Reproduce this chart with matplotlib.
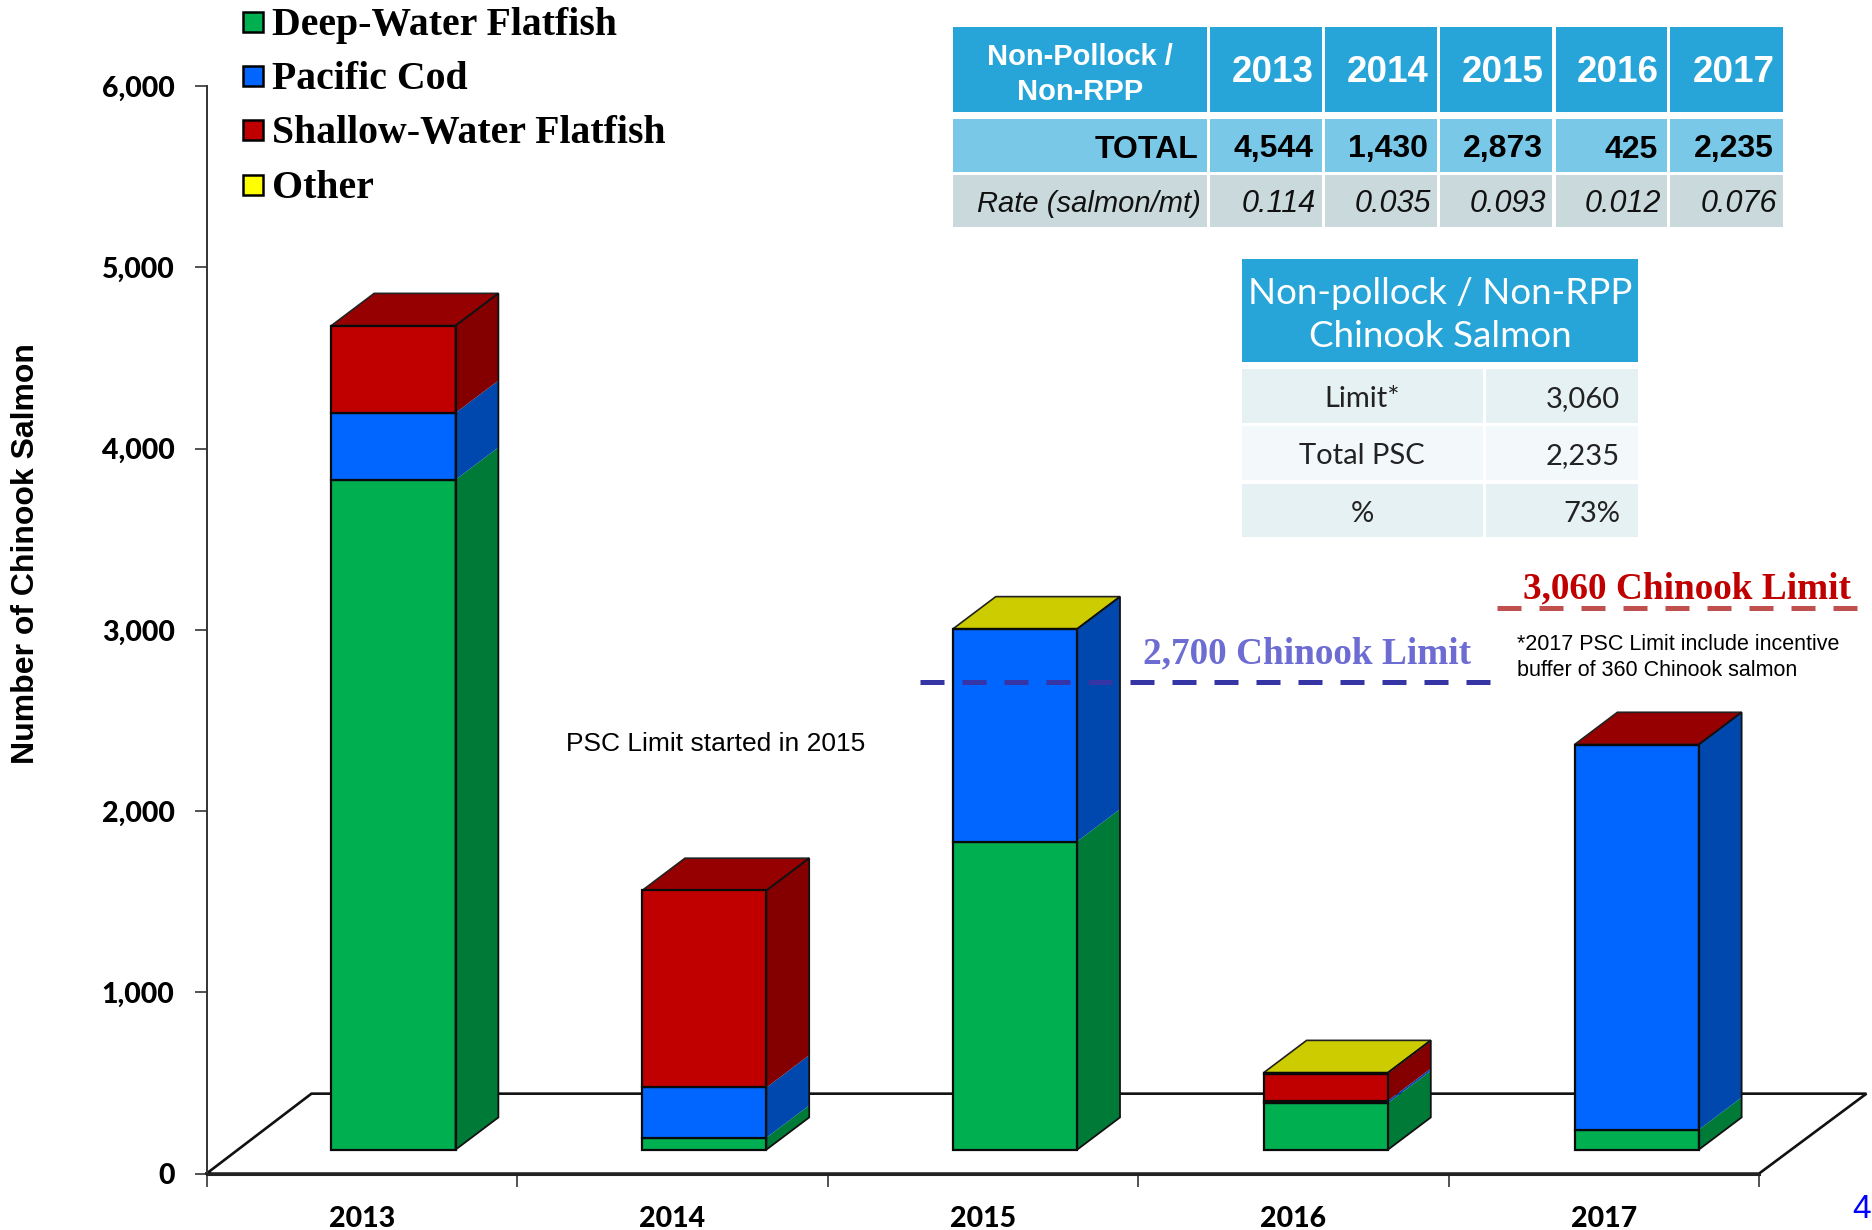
import matplotlib
matplotlib.use("Agg")
import matplotlib.pyplot as plt
from matplotlib.patches import Polygon, Rectangle
import numpy as np

# ---- data ----
years = ["2013", "2014", "2015", "2016", "2017"]
deep_water = [3696, 66, 1700, 257, 110]
pacific_cod = [369, 277, 1172, 13, 2124]
shallow_water = [481, 1087, 0, 150, 1]
other = [0, 0, 1, 5, 0]
series_names = ["Deep-Water Flatfish", "Pacific Cod", "Shallow-Water Flatfish", "Other"]
y_ticks = [0, 1000, 2000, 3000, 4000, 5000, 6000]
limit_2015 = 2713
limit_2017 = 3122

t1_head = ["Non-Pollock /\nNon-RPP", "2013", "2014", "2015", "2016", "2017"]
t1_total = ["TOTAL", "4,544", "1,430", "2,873", "425", "2,235"]
t1_rate = ["Rate (salmon/mt)", "0.114", "0.035", "0.093", "0.012", "0.076"]
t2_title = "Non-pollock / Non-RPP\nChinook Salmon"
t2_labels = ["Limit*", "Total PSC", "%"]
t2_values = ["3,060", "2,235", "73%"]

# ---- styles ----
FRONT = ["#00B050", "#0066FF", "#C00000", "#FFFF00"]
SIDE = ["#007A37", "#0047AE", "#840000", "#9C9C00"]
TOP = ["#00803A", "#004FC0", "#960000", "#CCCC00"]
W, H = 1872, 1230
SERIF = "Liberation Serif"
ARIAL = "Liberation Sans"
NARROW = "Lato"
CAL = "Lato"

fig = plt.figure(figsize=(W / 100, H / 100), dpi=100, facecolor="white")
L, R, T, B = 206.5, 1759.0, 86.0, 1173.6
ax = fig.add_axes([L / W, 1 - B / H, (R - L) / W, (B - T) / H])
ax.set_xlim(0, 5)
ax.set_ylim(0, 6000)
ax.patch.set_alpha(0)
for s in ["top", "right"]:
    ax.spines[s].set_visible(False)
ax.spines["left"].set_color("#333333")
ax.spines["left"].set_linewidth(1.4)
ax.spines["bottom"].set_linewidth(2.2)
ax.spines["bottom"].set_color("#222222")
ax.set_yticks(y_ticks)
ax.set_yticklabels([f"{v:,}" for v in y_ticks], fontfamily=CAL, fontweight=900, fontsize=20.5)
ax.set_xticks(np.arange(6))
ax.set_xticklabels([])
ax.set_xticks(np.arange(5) + 0.5, minor=True)
ax.set_xticklabels(years, minor=True, fontfamily=CAL, fontweight=900, fontsize=20.5)
ax.tick_params(axis="y", length=9, width=1.2, pad=14, color="#333333")
ax.tick_params(axis="x", which="major", length=9, width=1.2, color="#333333")
ax.tick_params(axis="x", which="minor", length=0, pad=23)
ax.set_ylabel("Number of Chinook Salmon", fontfamily=ARIAL, fontweight="bold", fontsize=23, va="center")
ax.yaxis.set_label_coords((26 - L) / (R - L), (B - 554) / (B - T))

# floor
fx = 0.338
fy = 441
ax.plot([0, fx, 5 + fx + 0.008, 5, 0], [0, fy, fy, 0, 0], color="#111111", lw=1.9, clip_on=False, zorder=1,
        solid_joinstyle="miter")

# 3D stacked bars
base = 132
bx = 0.4
bw = 0.4
dx = 0.138
dy = 178
stack = [deep_water, pacific_cod, shallow_water, other]
for i in range(len(years)):
    x0 = i * 1.001 + bx + 0.002
    x1 = x0 + bw
    cum = base
    last = 0
    for k, vals in enumerate(stack):
        v = vals[i]
        if v <= 0:
            continue
        ax.add_patch(Polygon([(x1, cum), (x1 + dx, cum + dy), (x1 + dx, cum + v + dy), (x1, cum + v)],
                             closed=True, fc=SIDE[k], ec="none", zorder=3, clip_on=False))
        ax.add_patch(Rectangle((x0, cum), bw, v, fc=FRONT[k], ec="#0a0a0a", lw=1.6, zorder=4, clip_on=False))
        cum += v
        last = k
    ax.add_patch(Polygon([(x0, cum), (x0 + dx, cum + dy), (x1 + dx, cum + dy), (x1, cum)],
                         closed=True, fc=TOP[last], ec="#222222", lw=1.2, zorder=3, clip_on=False))
    ax.add_patch(Polygon([(x1, base), (x1 + dx, base + dy), (x1 + dx, cum + dy), (x1, cum)],
                         closed=True, fc="none", ec="#111111", lw=1.3, zorder=5, clip_on=False))

# limit lines
ax.plot([2.298, 4.139], [limit_2015] * 2, color="#3535A5", lw=3.6, dashes=(4.8, 3.6), dash_capstyle="butt",
        zorder=6, clip_on=False)
ax.plot([4.155, 5.315], [limit_2017] * 2, color="#C0504D", lw=3.6, dashes=(4.8, 3.6), dash_capstyle="butt",
        zorder=6, clip_on=False)

# overlay in pixel coordinates for legend, tables and notes
ov = fig.add_axes([0, 0, 1, 1])
ov.set_xlim(0, W)
ov.set_ylim(H, 0)
ov.axis("off")
ov.patch.set_alpha(0)

for name, col, yc in zip(series_names, FRONT, [21.5, 76, 130, 185]):
    ov.add_patch(Rectangle((243, yc - 10), 20, 20, fc=col, ec="black", lw=1.8))
    ov.text(272, yc + 3.5, name, fontfamily=SERIF, fontweight="bold", fontsize=28.6, va="center", ha="left")

ov.text(566, 744, "PSC Limit started in 2015", fontfamily=ARIAL, fontsize=19, va="center", ha="left")
ov.text(1143, 654, "2,700 Chinook Limit", fontfamily=SERIF, fontweight="bold", fontsize=26.8, color="#6C6CD2",
        va="center", ha="left")
ov.text(1523, 589, "3,060 Chinook Limit", fontfamily=SERIF, fontweight="bold", fontsize=26.8, color="#C00000",
        va="center", ha="left")
ov.text(1517, 644, "*2017 PSC Limit include incentive", fontfamily=ARIAL, fontsize=15.5, va="center", ha="left")
ov.text(1517, 670, "buffer of 360 Chinook salmon", fontfamily=ARIAL, fontsize=15.5, va="center", ha="left")
ov.text(1852, 1210, "4", fontfamily=ARIAL, fontsize=24, color="#0000FF", va="center", ha="left")

# table 1
cols = [(953, 1207), (1210, 1322), (1325, 1437), (1440, 1552), (1556, 1667), (1670, 1783)]
rows = [(27, 112), (119, 172), (175, 227)]
fills = ["#27A5D8", "#7AC8E8", "#C9D9DC"]
for r, (content, fill) in enumerate(zip([t1_head, t1_total, t1_rate], fills)):
    y0, y1 = rows[r]
    for c, (x0, x1) in enumerate(cols):
        ov.add_patch(Rectangle((x0, y0), x1 - x0, y1 - y0, fc=fill, ec="none"))
        txt = content[c]
        ym = (y0 + y1) / 2
        if r == 0:
            if c == 0:
                ov.text((x0 + x1) / 2, ym + 5, txt, color="white", fontfamily=ARIAL, fontweight="bold", fontsize=21,
                        ha="center", va="center", linespacing=1.3)
            else:
                ov.text(x1 - 8, ym + 3, txt, color="white", fontfamily=ARIAL, fontweight="bold", fontsize=26.5,
                        ha="right", va="center")
        elif r == 1:
            ov.text(x1 - 9, ym + 4, txt, color="black", fontfamily=ARIAL, fontweight="bold", fontsize=23,
                    ha="right", va="center")
        else:
            size = 21 if c == 0 else 22
            ov.text(x1 - 6, ym + 3, txt, color="#111111", fontfamily=ARIAL, fontstyle="italic", fontsize=size,
                    ha="right", va="center")

# table 2
ov.add_patch(Rectangle((1242, 259), 396, 103, fc="#27A5D8", ec="none"))
ov.text(1440, 315, t2_title, color="white", fontfamily=NARROW, fontsize=26.5, ha="center", va="center", linespacing=1.4)
t2_rows = [(369, 423), (426, 480), (484, 537)]
t2_fills = ["#E6F1F3", "#F3F8FB", "#E6F1F3"]
for (y0, y1), fill, lab, val in zip(t2_rows, t2_fills, t2_labels, t2_values):
    ov.add_patch(Rectangle((1242, y0), 241, y1 - y0, fc=fill, ec="none"))
    ov.add_patch(Rectangle((1486, y0), 152, y1 - y0, fc=fill, ec="none"))
    ym = (y0 + y1) / 2 + 3
    ov.text(1362, ym, lab, color="#222222", fontfamily=NARROW, fontsize=21, ha="center", va="center")
    ov.text(1620, ym, val, color="#222222", fontfamily=NARROW, fontsize=21, ha="right", va="center")

fig.savefig("out.png", dpi=100)
